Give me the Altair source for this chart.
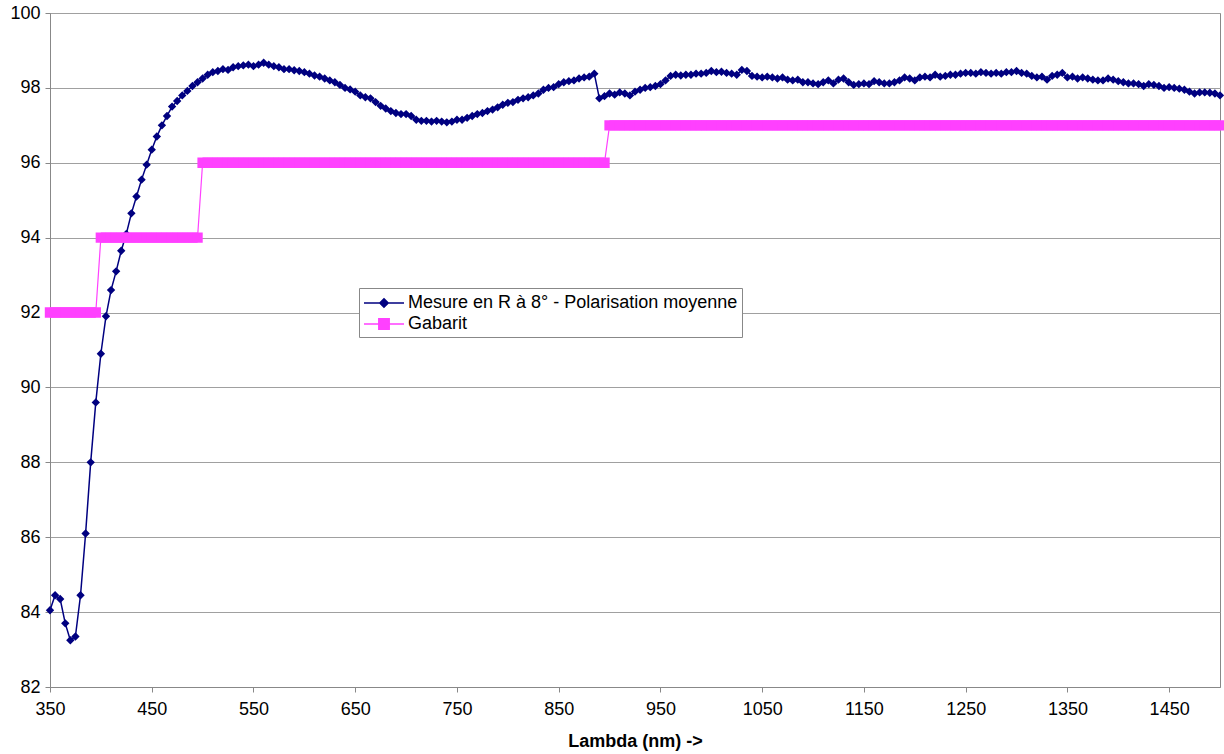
import altair as alt
import pandas as pd

# Wavelengths (nm), 5 nm step
wavelength = list(range(350, 1505, 5))

mesure = [
    84.05, 84.45, 84.35, 83.7, 83.25, 83.35, 84.45, 86.1, 88.0, 89.6,
    90.9, 91.9, 92.6, 93.1, 93.65, 94.1, 94.65, 95.1, 95.55, 95.95,
    96.35, 96.7, 97.0, 97.25, 97.5, 97.65, 97.8, 97.92, 98.05, 98.15,
    98.25, 98.35, 98.42, 98.45, 98.5, 98.48, 98.55, 98.58, 98.6, 98.62,
    98.58, 98.62, 98.67, 98.62, 98.58, 98.55, 98.5, 98.5, 98.47, 98.45,
    98.42, 98.38, 98.33, 98.3, 98.25, 98.2, 98.15, 98.08, 98.0, 97.96,
    97.9, 97.8, 97.75, 97.72, 97.62, 97.52, 97.45, 97.38, 97.33, 97.3,
    97.3, 97.25, 97.15, 97.12, 97.12, 97.1, 97.12, 97.1, 97.08, 97.1,
    97.15, 97.15, 97.2, 97.25, 97.3, 97.33, 97.38, 97.42, 97.48, 97.55,
    97.6, 97.62, 97.68, 97.72, 97.75, 97.8, 97.85, 97.95, 98.0, 98.02,
    98.1, 98.15, 98.18, 98.2, 98.25, 98.28, 98.3, 98.38, 97.72, 97.78,
    97.85, 97.82, 97.88, 97.85, 97.8, 97.9, 97.95, 98.0, 98.02, 98.05,
    98.1, 98.2, 98.32, 98.35, 98.33, 98.35, 98.35, 98.38, 98.38, 98.4,
    98.45, 98.42, 98.43, 98.4, 98.38, 98.35, 98.48, 98.45, 98.32, 98.3,
    98.28, 98.3, 98.28, 98.25, 98.28, 98.22, 98.2, 98.22, 98.15, 98.15,
    98.12, 98.1, 98.15, 98.2, 98.12, 98.22, 98.25, 98.15, 98.08, 98.1,
    98.12, 98.1, 98.18, 98.15, 98.12, 98.12, 98.15, 98.2, 98.28, 98.25,
    98.2, 98.28, 98.3, 98.28, 98.35, 98.3, 98.32, 98.35, 98.35, 98.38,
    98.4, 98.4, 98.38, 98.42, 98.4, 98.38, 98.4, 98.38, 98.42, 98.42,
    98.45, 98.4, 98.38, 98.32, 98.28, 98.3, 98.22, 98.32, 98.35, 98.4,
    98.28, 98.3, 98.25, 98.28, 98.25, 98.22, 98.2, 98.2, 98.25, 98.22,
    98.18, 98.15, 98.12, 98.12, 98.1, 98.05, 98.1, 98.08, 98.05, 98.0,
    98.02, 98.0, 97.98, 97.95, 97.9, 97.85, 97.88, 97.88, 97.87, 97.85,
    97.8,
]

# Template steps: (start nm, end nm, level %)
gabarit_steps = [(350, 395, 92), (400, 495, 94), (500, 895, 96), (900, 1500, 97)]

series_names = ["Mesure en R à 8° - Polarisation moyenne", "Gabarit"]
series_colors = ["#000080", "#FF40FF"]
# legend/point shapes: a short line with a diamond / a square
series_shapes = [
    "M-2,0L2,0M0,-0.42L0.42,0L0,0.42L-0.42,0Z",
    "M-2,0L2,0M-0.52,-0.52L0.52,-0.52L0.52,0.52L-0.52,0.52Z",
]
x_ticks = list(range(350, 1500, 100))
y_ticks = list(range(82, 101, 2))

gx, gy = [], []
for a, b, lvl in gabarit_steps:
    for w in range(a, b + 5, 5):
        gx.append(w)
        gy.append(lvl)

df = pd.concat([
    pd.DataFrame({"x": wavelength, "y": mesure, "series": series_names[0]}),
    pd.DataFrame({"x": gx, "y": gy, "series": series_names[1]}),
])

font = "Liberation Sans"

base = alt.Chart(df).encode(
    x=alt.X("x:Q", scale=alt.Scale(domain=[350, 1500], nice=False, zero=False),
            axis=alt.Axis(values=x_ticks, title="Lambda (nm) ->", grid=False,
                          format="d", labelFlush=False)),
    y=alt.Y("y:Q", scale=alt.Scale(domain=[82, 100], nice=False, zero=False),
            axis=alt.Axis(values=y_ticks, title=None, grid=True, format="d", labelFlush=False)),
)

line_gab = base.transform_filter(alt.datum.series == series_names[1]).mark_line(
    color=series_colors[1], strokeWidth=1.2)
line_mes = base.transform_filter(alt.datum.series == series_names[0]).mark_line(
    color=series_colors[0], strokeWidth=1.5)

leg = alt.Legend(
    title=None, orient="none", legendX=309, legendY=275,
    fillColor="#FFFFFF", strokeColor="#888888", padding=4,
    symbolSize=400, symbolStrokeWidth=1.5, symbolOpacity=1, symbolOffset=10,
    labelFont=font, labelFontSize=18, labelColor="#000000", labelOffset=13,
    rowPadding=1, labelLimit=600,
)

points = base.mark_point(filled=True, size=400, strokeWidth=0, opacity=1).encode(
    fill=alt.Fill("series:N", scale=alt.Scale(domain=series_names, range=series_colors), legend=leg),
    stroke=alt.Stroke("series:N", scale=alt.Scale(domain=series_names, range=series_colors), legend=leg),
    shape=alt.Shape("series:N", scale=alt.Scale(domain=series_names, range=series_shapes), legend=leg),
)

chart = alt.layer(line_gab, line_mes, points).properties(
    width=1170, height=674,
    autosize=alt.AutoSizeParams(type="none"),
    padding={"left": 50, "top": 13, "right": 4, "bottom": 67},
).configure_view(
    stroke="#888888", strokeWidth=1,
).configure_axis(
    labelFont=font, labelFontSize=18, labelColor="#000000",
    titleFont=font, titleFontSize=18, titleFontWeight="bold", titleColor="#000000",
    domainColor="#888888", tickColor="#888888", tickSize=5,
    gridColor="#A0A0A0", gridWidth=1,
).configure_axisX(
    labelPadding=8, titlePadding=14,
).configure_axisY(
    labelPadding=5,
)

chart.save("out.html", embed_options={"renderer": "svg", "actions": False})
